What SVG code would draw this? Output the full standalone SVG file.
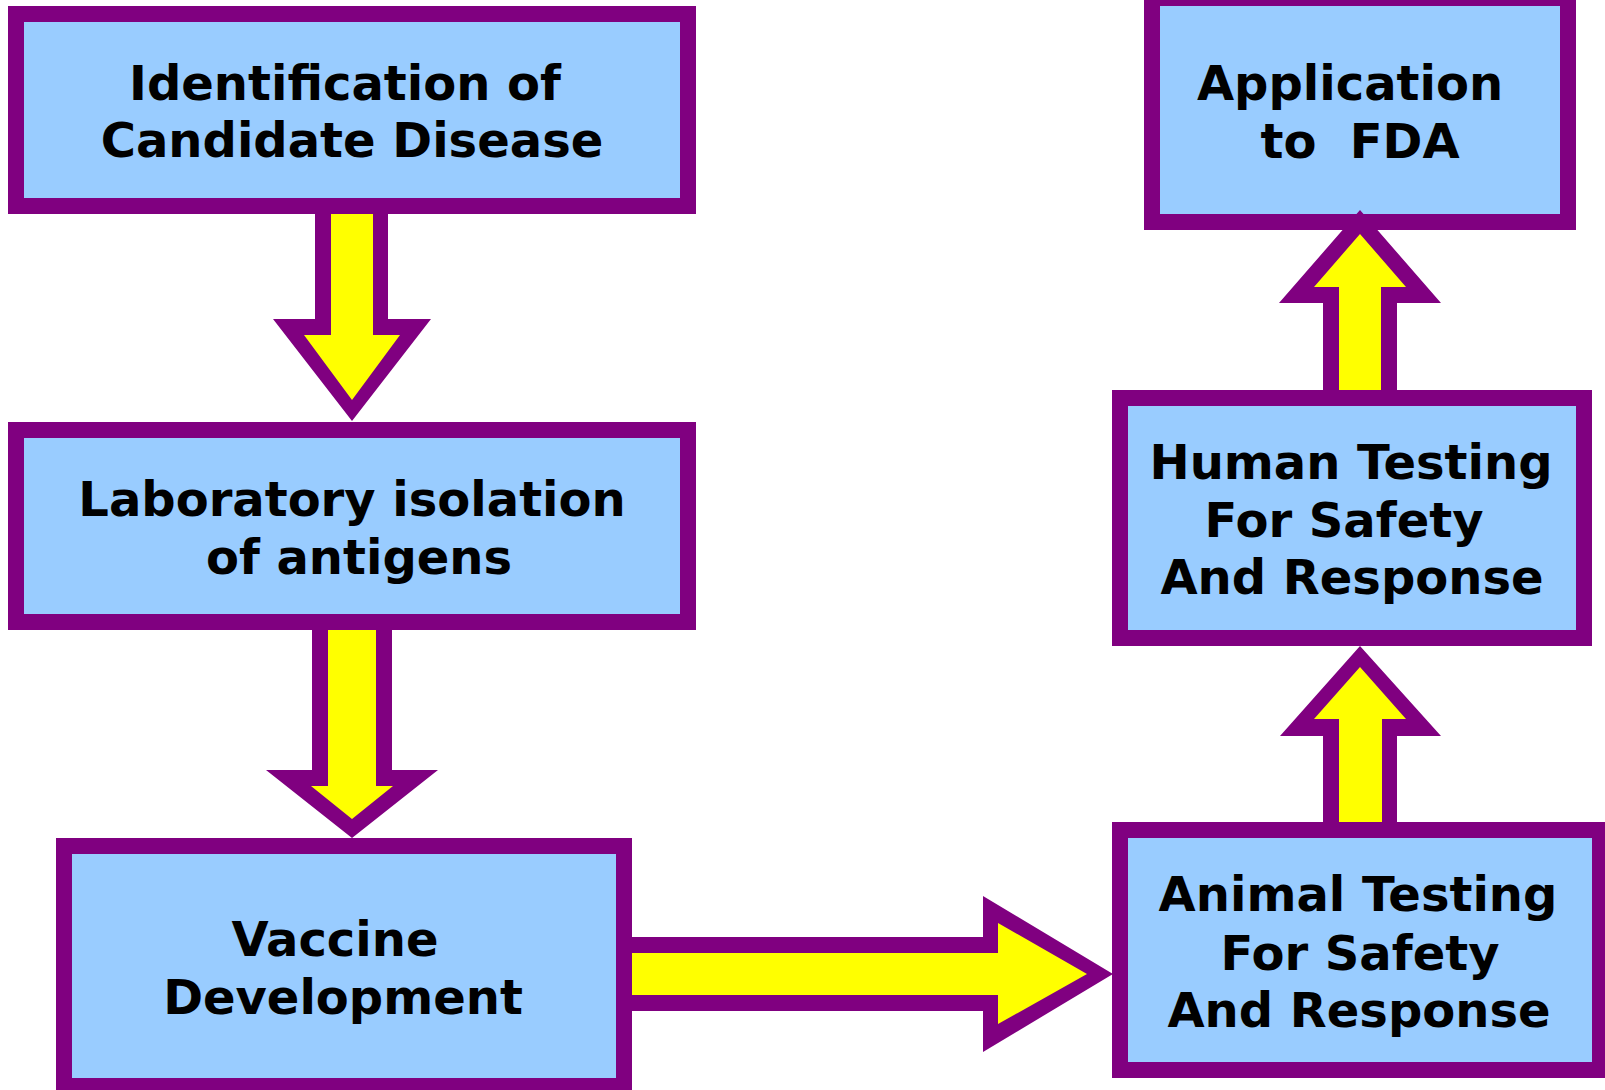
<svg xmlns="http://www.w3.org/2000/svg" width="1605" height="1090" viewBox="0 0 1605 1090">
<style>
.box{fill:#99CCFF;stroke:#800080;stroke-width:16}
.lbl{font-family:"DejaVu Sans","Verdana","Liberation Sans",sans-serif;font-weight:bold;font-size:48px;fill:#000;text-anchor:middle;white-space:pre}
.out{fill:#800080}
.in{fill:#FFFF00}
</style>
<rect width="1605" height="1090" fill="#FFFFFF"/>
<g id="node-identification">
<rect class="box" x="16" y="14" width="672" height="192"/>
<text class="lbl" x="345" y="100">Identification of</text>
<text class="lbl" x="352" y="157">Candidate Disease</text>
</g>
<g id="node-laboratory">
<rect class="box" x="16" y="430" width="672" height="192"/>
<text class="lbl" x="352" y="516">Laboratory isolation</text>
<text class="lbl" x="359" y="574">of antigens</text>
</g>
<g id="node-vaccine">
<rect class="box" x="64" y="846" width="560" height="240"/>
<text class="lbl" x="335" y="956">Vaccine</text>
<text class="lbl" x="343" y="1014">Development</text>
</g>
<g id="node-fda">
<rect class="box" x="1152" y="-2" width="416" height="224"/>
<text class="lbl" x="1350" y="100">Application</text>
<text class="lbl" x="1360" y="158" xml:space="preserve">to  FDA</text>
</g>
<g id="node-human">
<rect class="box" x="1120" y="398" width="464" height="240"/>
<text class="lbl" x="1351" y="479">Human Testing</text>
<text class="lbl" x="1344" y="537">For Safety</text>
<text class="lbl" x="1352" y="594">And Response</text>
</g>
<g id="node-animal">
<rect class="box" x="1120" y="830" width="480" height="240"/>
<text class="lbl" x="1358" y="911">Animal Testing</text>
<text class="lbl" x="1360" y="970">For Safety</text>
<text class="lbl" x="1359" y="1027">And Response</text>
</g>
<g id="connectors">
<g id="arrow-1">
<polygon class="out" points="315,214 388,214 388,319 431,319 352,421 273,319 315,319"/>
<polygon class="in" points="331,214 373,214 373,335 400,335 352,400 304,335 331,335"/>
</g>
<g id="arrow-2">
<polygon class="out" points="312,630 392,630 392,770 438,770 352,838 266,770 312,770"/>
<polygon class="in" points="328,630 376,630 376,786 393,786 352,819 311,786 328,786"/>
</g>
<g id="arrow-3">
<polygon class="out" points="632,937 983,937 983,896 1113,974 983,1052 983,1011 632,1011"/>
<polygon class="in" points="632,953 998,953 998,923 1087,974 998,1024 998,995 632,995"/>
</g>
<g id="arrow-4">
<polygon class="out" points="1323,822 1323,736 1280,736 1360,646 1441,736 1397,736 1397,822"/>
<polygon class="in" points="1339,822 1339,719 1314,719 1360,667 1406,719 1382,719 1382,822"/>
</g>
<g id="arrow-5">
<polygon class="out" points="1323,390 1323,303 1279,303 1360,210 1441,303 1397,303 1397,390"/>
<polygon class="in" points="1339,390 1339,287 1314,287 1360,234 1406,287 1381,287 1381,390"/>
</g>
</g>
</svg>
